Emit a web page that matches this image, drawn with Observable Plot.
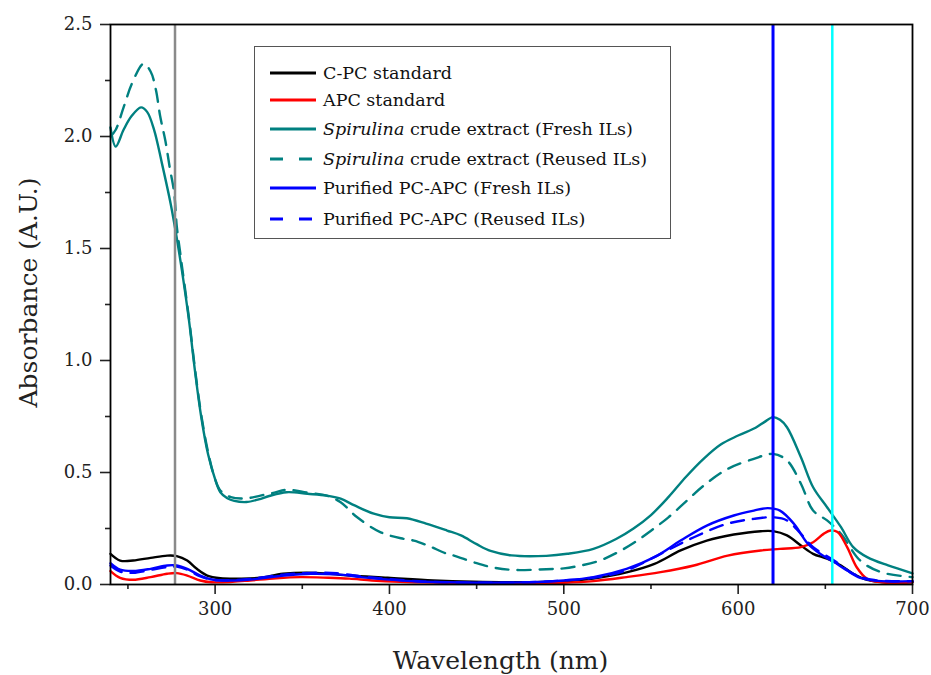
<!DOCTYPE html>
<html>
<head>
<meta charset="utf-8">
<script src="https://cdn.jsdelivr.net/npm/d3@7"></script>
<script src="https://cdn.jsdelivr.net/npm/@observablehq/plot@0.6"></script>
<style>
  body { margin: 0; background: #fff; }
  #wrap { position: relative; width: 931px; height: 675px; overflow: hidden; background: #fff; }
  #legend { position: absolute; left: 254px; top: 46px; width: 417px; height: 193px; border: 1.3px solid #555;
            box-sizing: border-box; background: #fff; font-family: "DejaVu Serif", serif; font-size: 17.5px; color: #111; }
  .row { position: absolute; left: 0; height: 22px; display: flex; align-items: center; }
  .row svg { margin-left: 15px; }
  .row span { margin-left: 7px; white-space: nowrap; }
</style>
</head>
<body>
<div id="wrap"><div id="chart"></div><div id="legend"></div></div>
<script>
// ---- data ----
const waveCPC = [240,245.5,253,263,272.5,278,284,289.5,295.5,303,315,326,339,358,377,399,425,448,470,500,517,536,552,567,582,597.5,613,620,628,636,643,651,659,666,674,685,700];
const absCPC  = [0.137,0.107,0.107,0.119,0.129,0.127,0.107,0.07,0.04,0.028,0.026,0.03,0.048,0.052,0.04,0.03,0.018,0.012,0.01,0.015,0.027,0.054,0.092,0.152,0.196,0.223,0.238,0.238,0.219,0.174,0.137,0.115,0.085,0.048,0.021,0.01,0.01];

const waveAPC = [240,245.5,253,263,272.5,278,284,291.5,298,310,320,335,349,365,377,390,406,430,460,500,517,536,555.5,574.6,594,613,624,636,643,649,653,657,662.5,668,674,682,700];
const absAPC  = [0.06,0.03,0.021,0.033,0.048,0.051,0.04,0.018,0.01,0.012,0.018,0.028,0.033,0.03,0.026,0.018,0.012,0.008,0.005,0.008,0.015,0.033,0.055,0.085,0.129,0.152,0.159,0.167,0.189,0.226,0.241,0.234,0.167,0.077,0.025,0.01,0.01];

const waveCrudeFresh = [240,243,247.5,252,257.5,261,265,269.5,274.5,277.5,281,285,288.5,292,296,300,303,307,311,318,325,331,341,353,364,372,380,391,400,410,421,433,441,450,458,470,490,502,517,530,540,550,560,570,580,590,600,610,615,620,624,628,636,643,651,659,666,674,686,700];
const absCrudeFresh  = [2.04,1.955,2.03,2.09,2.13,2.11,2.03,1.88,1.70,1.57,1.40,1.18,0.95,0.75,0.58,0.47,0.412,0.385,0.373,0.368,0.38,0.395,0.412,0.405,0.397,0.383,0.353,0.316,0.300,0.296,0.272,0.241,0.219,0.180,0.150,0.130,0.128,0.137,0.159,0.203,0.25,0.31,0.39,0.48,0.56,0.625,0.665,0.70,0.725,0.747,0.735,0.702,0.568,0.434,0.345,0.256,0.167,0.122,0.085,0.05];

const waveCrudeReused = [240,243,247.5,252.5,259,263,266,268.5,271.5,274,276.5,278,280,281,285,288.5,292,296,300,303,309,318,326,334,341,353,364,372,381.5,395,408,414,422,433,437,450,460,471,490,500,510,520,530,540,550,560,570,580,594,609,620,628,636,643,651,659,670,682,700];
const absCrudeReused  = [2.00,2.03,2.13,2.24,2.325,2.29,2.21,2.09,1.98,1.86,1.75,1.60,1.48,1.42,1.19,0.96,0.76,0.59,0.47,0.42,0.39,0.385,0.397,0.41,0.423,0.41,0.397,0.367,0.30,0.233,0.204,0.196,0.174,0.137,0.129,0.095,0.075,0.065,0.068,0.072,0.085,0.105,0.14,0.185,0.24,0.30,0.37,0.44,0.516,0.561,0.583,0.554,0.45,0.33,0.286,0.226,0.107,0.055,0.033];

const wavePureFresh = [240,245.5,253,263,272.5,278,284,291.5,299,310,320,340,355,370,385,400,420,450,480,500,517,536,552,567,582,597.5,609,617,624,632,640,647,655,662.5,670,682,700];
const absPureFresh  = [0.095,0.066,0.06,0.07,0.085,0.085,0.07,0.04,0.021,0.018,0.022,0.04,0.048,0.045,0.032,0.022,0.012,0.008,0.01,0.018,0.033,0.07,0.122,0.196,0.263,0.308,0.33,0.341,0.33,0.271,0.182,0.137,0.10,0.0625,0.03,0.015,0.015];

const wavePureReused = [240,245.5,253,263,272.5,278,284,291.5,299,310,320,340,355,370,385,400,420,450,480,500,517,536,555.5,574.6,593.7,609,620,628,636,643,655,666,678,700];
const absPureReused  = [0.085,0.058,0.052,0.065,0.078,0.08,0.066,0.036,0.02,0.02,0.025,0.045,0.052,0.05,0.035,0.024,0.013,0.008,0.01,0.018,0.03,0.063,0.137,0.211,0.271,0.293,0.30,0.286,0.226,0.167,0.107,0.048,0.02,0.015];

const seriesNames = [
  "C-PC standard",
  "APC standard",
  "Spirulina crude extract (Fresh ILs)",
  "Spirulina crude extract (Reused ILs)",
  "Purified PC-APC (Fresh ILs)",
  "Purified PC-APC (Reused ILs)"
];
const markerWave = [277, 620, 654];
const xTicks = [300, 400, 500, 600, 700];
const xMinorTicks = [250, 350, 450, 550, 650];
const yTicks = [0, 0.5, 1.0, 1.5, 2.0, 2.5];
const yMinorTicks = [0.25, 0.75, 1.25, 1.75, 2.25];
const xLabel = "Wavelength (nm)";
const yLabel = "Absorbance (A.U.)";

// ---- styling ----
const TEAL = "#008080";
const series = [
  {name: seriesNames[2], w: waveCrudeFresh,  a: absCrudeFresh,  color: TEAL,      dash: null},
  {name: seriesNames[3], w: waveCrudeReused, a: absCrudeReused, color: TEAL,      dash: "13,9"},
  {name: seriesNames[0], w: waveCPC,         a: absCPC,         color: "#000000", dash: null},
  {name: seriesNames[1], w: waveAPC,         a: absAPC,         color: "#ff0000", dash: null},
  {name: seriesNames[4], w: wavePureFresh,   a: absPureFresh,   color: "#0000ff", dash: null},
  {name: seriesNames[5], w: wavePureReused,  a: absPureReused,  color: "#0000ff", dash: "13,9"}
];
const markerColors = ["#8a8a8a", "#0000ff", "#00ffff"];
const markerWidths = [2.5, 3, 2.5];

const marks = [];
for (const s of series) {
  const rows = s.w.map((w, i) => ({wl: w, ab: s.a[i]}));
  marks.push(Plot.line(rows, {x: "wl", y: "ab", stroke: s.color, strokeWidth: 2.4,
    strokeDasharray: s.dash, curve: "catmull-rom"}));
}
markerWave.forEach((m, i) => {
  marks.push(Plot.ruleX([m], {stroke: markerColors[i], strokeWidth: markerWidths[i]}));
});

const chart = Plot.plot({
  width: 931,
  height: 675,
  marginLeft: 110,
  marginRight: 19,
  marginTop: 24,
  marginBottom: 91,
  style: {fontFamily: "DejaVu Serif, serif", fontSize: "18px", color: "#222", background: "#fff"},
  x: {domain: [240, 700]},
  y: {domain: [0, 2.5]},
  marks: [
    ...marks,
    Plot.axisX(xTicks, {tickSize: 10, tickPadding: 8, strokeWidth: 1.6, label: null, fontSize: 18}),
    Plot.axisX(xMinorTicks, {tickSize: 5, text: null, strokeWidth: 1.6, label: null}),
    Plot.axisY(yTicks, {tickSize: 10, tickPadding: 8, strokeWidth: 1.6, label: null, tickFormat: d3.format(".1f"), fontSize: 18}),
    Plot.axisY(yMinorTicks, {tickSize: 5, text: null, strokeWidth: 1.6, label: null}),
    Plot.frame({stroke: "#000", strokeWidth: 1.8}),
    Plot.text([xLabel], {frameAnchor: "bottom", dy: 76, dx: -11, fontSize: 25, textAnchor: "middle", lineAnchor: "middle", fill: "#222"}),
    Plot.text([yLabel], {frameAnchor: "left", dx: -82, dy: -12, rotate: -90, fontSize: 25, textAnchor: "middle", lineAnchor: "middle", fill: "#222"})
  ]
});
document.getElementById("chart").appendChild(chart);

// ---- legend ----
const legendOrder = [
  {name: seriesNames[0], color: "#000000", dash: null},
  {name: seriesNames[1], color: "#ff0000", dash: null},
  {name: seriesNames[2], color: TEAL, dash: null},
  {name: seriesNames[3], color: TEAL, dash: "13,16"},
  {name: seriesNames[4], color: "#0000ff", dash: null},
  {name: seriesNames[5], color: "#0000ff", dash: "13,16"}
];
const rowTops = [26, 52.5, 81.5, 111.5, 141, 172];
const legend = document.getElementById("legend");
legendOrder.forEach((e, i) => {
  const row = document.createElement("div");
  row.className = "row";
  row.style.top = (rowTops[i] - 11) + "px";
  const sv = `<svg width="46" height="6"><line x1="0" y1="3" x2="46" y2="3" stroke="${e.color}" stroke-width="3"${e.dash ? ` stroke-dasharray="${e.dash}"` : ""}/></svg>`;
  const label = e.name.replace("Spirulina", "<i>Spirulina</i>");
  row.innerHTML = sv + `<span>${label}</span>`;
  legend.appendChild(row);
});
</script>
</body>
</html>
